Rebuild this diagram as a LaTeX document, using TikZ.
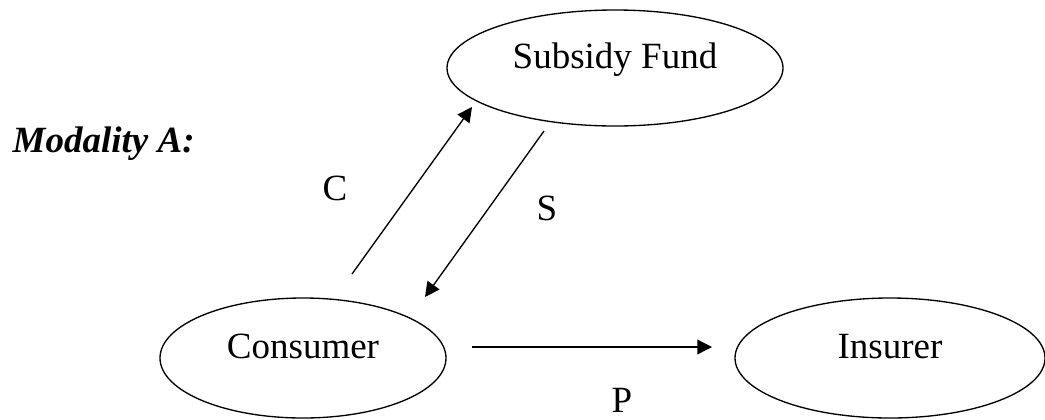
\documentclass[tikz,border=0pt]{standalone}
\usepackage{fontspec}
\setmainfont{Liberation Serif}
\usetikzlibrary{shapes.geometric,arrows.meta}

\tikzset{every picture/.style={line width=1pt}}
\tikzset{
  party/.style={ellipse, draw, inner sep=0pt, text height=0.7em, text depth=0.7em, font=\fontsize{27.75}{33}\selectfont},
  flow/.style={-{Triangle[length=11pt,width=11pt]}},
  flowlabel/.style={inner sep=0pt, font=\fontsize{27.75}{33}\selectfont}
}

\begin{document}
\begin{tikzpicture}[x=0.75pt,y=0.75pt,yscale=-1,xscale=1]
\useasboundingbox (0,0) rectangle (1045,419);

%Ellipses
\node [party, minimum width=252pt, minimum height=87pt] (fund) at (615,68) {Subsidy Fund};
\node [party, minimum width=214.5pt, minimum height=90pt] (cons) at (303,358) {Consumer};
\node [party, minimum width=232.5pt, minimum height=90pt] (ins) at (890,358) {Insurer};

%Arrow ends
\coordinate (cfrom) at (352,274);
\coordinate (cto) at (472,107);
\coordinate (sfrom) at (544,131);
\coordinate (sto) at (425,297);
\coordinate (pfrom) at (472,347);
\coordinate (pto) at (712,347);

%Straight Lines
\draw [flow] (cfrom) -- (cto);
%Straight Lines
\draw [flow] (sfrom) -- (sto);
%Straight Lines
\draw [flow] (pfrom) -- (pto);

% Text Node
\node [anchor=base west, inner sep=0pt, font=\fontsize{27.75}{33}\selectfont\bfseries\itshape] (title) at (12,152) {Modality A:};
% Text Node
\node [flowlabel] (clab) at (335,188) {C};
% Text Node
\node [flowlabel] (slab) at (547,208) {S};
% Text Node
\node [flowlabel] (plab) at (622,400) {P};

\end{tikzpicture}
\end{document}
